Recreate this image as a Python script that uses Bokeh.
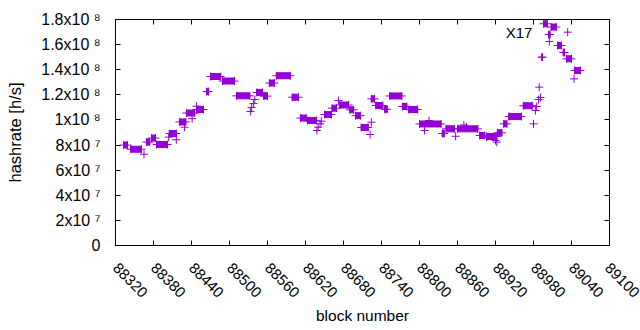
import math
from bokeh.plotting import figure
from bokeh.models import (Range1d, FixedTicker, LinearAxis, Label,
                          CustomJSTickFormatter, ColumnDataSource)
from bokeh.embed import file_html
from bokeh.resources import INLINE

# ---- data: runs of blocks with (nearly) constant estimated hashrate ----
run_start = [88333, 88344, 88369, 88377, 88385, 88405, 88421, 88432, 88448, 88464,
             88470, 88489, 88511, 88543, 88554, 88563, 88574, 88599, 88612, 88623,
             88650, 88662, 88674, 88690, 88699, 88708, 88724, 88731, 88745, 88753,
             88773, 88783, 88800, 88836, 88842, 88860, 88895, 88906, 88923, 88933,
             88941, 88964, 88993, 88996, 89004, 89008, 89018, 89027, 89032, 89045]
run_end = [88339, 88361, 88374, 88383, 88402, 88416, 88431, 88445, 88459, 88467,
           88486, 88508, 88532, 88552, 88560, 88571, 88596, 88609, 88621, 88637,
           88661, 88669, 88688, 88696, 88707, 88719, 88729, 88742, 88749, 88772,
           88780, 88797, 88834, 88839, 88855, 88892, 88903, 88922, 88930, 88938,
           88961, 88978, 88994, 89002, 89006, 89016, 89024, 89029, 89040, 89054]
run_value = [8.00e7, 7.67e7, 8.24e7, 8.56e7, 8.04e7, 8.92e7, 9.84e7, 1.055e8, 1.083e8, 1.226e8,
             1.346e8, 1.310e8, 1.192e8, 1.219e8, 1.190e8, 1.294e8, 1.352e8, 1.181e8, 1.015e8, 9.96e7,
             1.043e8, 1.094e8, 1.119e8, 1.081e8, 1.034e8, 9.40e7, 1.168e8, 1.115e8, 1.085e8, 1.191e8,
             1.107e8, 1.083e8, 9.68e7, 8.92e7, 9.29e7, 9.29e7, 8.76e7, 8.68e7, 8.98e7, 9.69e7,
             1.027e8, 1.113e8, 1.500e8, 1.766e8, 1.680e8, 1.740e8, 1.593e8, 1.537e8, 1.487e8, 1.394e8]

# ---- data: isolated blocks ----
single_block = [88365, 88404, 88416, 88429, 88441, 88448, 88533, 88535, 88538, 88540,
                88638, 88640, 88643, 88645, 88672, 88722, 88724, 88808, 88815, 88857,
                88870, 88874, 88906, 88920, 88922, 88980, 88983, 88985, 88988, 88989,
                88991, 89005, 89034, 89044]
single_value = [7.27e7, 8.63e7, 8.42e7, 9.42e7, 1.010e8, 1.110e8, 1.067e8, 1.100e8, 1.130e8, 1.163e8,
                9.16e7, 9.42e7, 9.69e7, 9.90e7, 1.155e8, 8.84e7, 9.82e7, 9.16e7, 9.95e7, 8.70e7,
                9.60e7, 9.45e7, 8.63e7, 8.36e7, 8.23e7, 9.69e7, 1.075e8, 1.107e8, 1.163e8, 1.261e8,
                1.179e8, 1.625e8, 1.699e8, 1.327e8]

# ---- ticks / labels ----
x_ticks = [88320, 88380, 88440, 88500, 88560, 88620, 88680, 88740, 88800, 88860,
           88920, 88980, 89040, 89100]
y_ticks = [0, 2e7, 4e7, 6e7, 8e7, 1e8, 1.2e8, 1.4e8, 1.6e8, 1.8e8]
y_labels = ["0", "2x10 \u2077", "4x10 \u2077", "6x10 \u2077", "8x10 \u2077",
            "1x10 \u2078", "1.2x10 \u2078", "1.4x10 \u2078", "1.6x10 \u2078", "1.8x10 \u2078"]

annot_text = "X17"
annot_x = 88936
annot_y = 1.70e8

FONT = "Liberation Sans"
COLOR = "#9400d3"
TXT = "#000000"

p = figure(width=640, height=330, output_backend="svg", toolbar_location=None,
           x_range=Range1d(x_ticks[0], x_ticks[-1]), y_range=Range1d(y_ticks[0], y_ticks[-1]),
           min_border_left=115, min_border_right=31, min_border_top=19, min_border_bottom=85)
p.background_fill_color = "white"
p.border_fill_color = "white"
p.outline_line_color = "black"
p.outline_line_width = 1
p.grid.visible = False

# runs: dense overlapping '+' markers look like filled bars
src = ColumnDataSource(dict(
    cx=[(a + b) / 2 for a, b in zip(run_start, run_end)],
    w=[(b - a) for a, b in zip(run_start, run_end)],
    v=run_value))
p.rect(x="cx", y="v", width="w", height=6, height_units="screen", source=src,
       fill_color=COLOR, line_color=COLOR, line_width=1)
p.scatter(x=run_start + run_end, y=run_value + run_value, marker="cross", size=8,
          line_color=COLOR, line_width=1)
p.scatter(x=single_block, y=single_value, marker="cross", size=8,
          line_color=COLOR, line_width=1)

blank = CustomJSTickFormatter(code="return ''")

def style_axis(ax):
    ax.major_tick_in = 5
    ax.major_tick_out = 0
    ax.minor_tick_in = 0
    ax.minor_tick_out = 0
    ax.axis_line_color = "black"
    ax.major_tick_line_color = "black"

xa = p.xaxis[0]
xa.ticker = FixedTicker(ticks=x_ticks)
style_axis(xa)
xa.major_label_orientation = -math.pi / 4
xa.major_label_standoff = 20
xa.major_label_text_font = FONT
xa.major_label_text_font_size = "15px"
xa.major_label_text_color = TXT
xa.axis_label = "block number"
xa.axis_label_standoff = 2
xa.axis_label_text_font = FONT
xa.axis_label_text_font_size = "15.5px"
xa.axis_label_text_font_style = "normal"
xa.axis_label_text_color = TXT

ya = p.yaxis[0]
ya.ticker = FixedTicker(ticks=y_ticks)
ya.formatter = CustomJSTickFormatter(args=dict(t=y_ticks, l=y_labels),
                                     code="const i = t.indexOf(tick); return i >= 0 ? l[i] : '';")
style_axis(ya)
ya.major_label_standoff = 15
ya.major_label_text_font = FONT
ya.major_label_text_font_size = "16px"
ya.major_label_text_color = TXT
ya.axis_label = "hashrate [h/s]"
ya.axis_label_text_font = FONT
ya.axis_label_text_font_size = "16.5px"
ya.axis_label_text_font_style = "normal"
ya.axis_label_text_color = TXT
ya.axis_label_standoff = 14

top = LinearAxis(ticker=FixedTicker(ticks=x_ticks), formatter=blank)
style_axis(top)
p.add_layout(top, "above")
right = LinearAxis(ticker=FixedTicker(ticks=y_ticks), formatter=blank)
style_axis(right)
p.add_layout(right, "right")

p.add_layout(Label(x=annot_x, y=annot_y, text=annot_text, text_align="left",
                   text_baseline="middle", text_font=FONT, text_font_size="15px",
                   text_color=TXT))

open("out.html", "w").write(file_html(p, INLINE))
